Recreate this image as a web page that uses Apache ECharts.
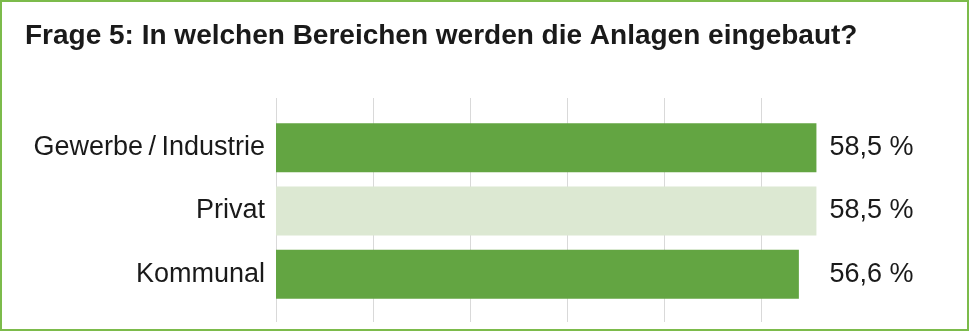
<!DOCTYPE html>
<html>
<head>
<meta charset="utf-8">
<script src="https://cdn.jsdelivr.net/npm/echarts@6/dist/echarts.min.js"></script>
<style>
  html, body { margin: 0; padding: 0; background: #fff; }
  #wrap { position: relative; width: 969px; height: 331px; }
  #chart { width: 969px; height: 331px; }
  #frame { position: absolute; left: 0; top: 0; width: 969px; height: 331px; box-sizing: border-box; border: 2px solid #7cbb4b; pointer-events: none; }
</style>
</head>
<body>
<div id="wrap"><div id="chart"></div><div id="frame"></div></div>
<script>
const titleText = 'Frage 5: In welchen Bereichen werden die Anlagen eingebaut?';
const categories = ['Gewerbe\u2009/\u2009Industrie', 'Privat', 'Kommunal'];
const values = [58.5, 58.5, 56.6];
const barColors = ['#63a542', '#dce8d2', '#63a542'];
const axisMax = 63;
const axisInterval = 10.5;

const font = '"Liberation Sans", Arial, sans-serif';
const fmt = v => v.toFixed(1).replace('.', ',') + ' %';
const valueLabels = values.map(fmt);
const dataMax = Math.max(...values);

const chart = echarts.init(document.getElementById('chart'), null, { renderer: 'canvas' });
chart.setOption({
  animation: false,
  title: {
    text: titleText,
    left: 20, top: 17,
    textStyle: { fontFamily: font, fontWeight: 'bold', fontSize: 28, color: '#1a1a1a' }
  },
  grid: [
    { left: 276, top: 98, width: 582, height: 224 },
    { left: 276, top: 116, width: 582 * dataMax / axisMax, height: 190 }
  ],
  xAxis: [
    {
      gridIndex: 0, type: 'value', min: 0, max: axisMax, interval: axisInterval,
      axisLine: { show: false }, axisTick: { show: false }, axisLabel: { show: false },
      splitLine: { show: true, showMinLine: true, showMaxLine: false, lineStyle: { color: '#d9d9d9', width: 1 } }
    },
    {
      gridIndex: 1, type: 'value', min: 0, max: dataMax,
      axisLine: { show: false }, axisTick: { show: false }, axisLabel: { show: false },
      splitLine: { show: false }
    }
  ],
  yAxis: [
    {
      gridIndex: 0, type: 'category', data: categories, inverse: true,
      axisLine: { show: false }, axisTick: { show: false }, axisLabel: { show: false }, splitLine: { show: false }
    },
    {
      gridIndex: 1, type: 'category', data: categories, inverse: true,
      axisLine: { show: false }, axisTick: { show: false },
      axisLabel: { margin: 11, fontFamily: font, fontSize: 27, color: '#1a1a1a' }
    },
    {
      gridIndex: 1, type: 'category', data: valueLabels, inverse: true, position: 'right',
      axisLine: { show: false }, axisTick: { show: false },
      axisLabel: { margin: 13, fontFamily: font, fontSize: 27, color: '#1a1a1a', verticalAlign: 'middle', padding: [0, 0, 3, 0] }
    }
  ],
  series: [{
    type: 'bar',
    xAxisIndex: 1, yAxisIndex: 1,
    barWidth: 49,
    data: values.map((v, i) => ({ value: v, itemStyle: { color: barColors[i] } }))
  }]
});
</script>
</body>
</html>
